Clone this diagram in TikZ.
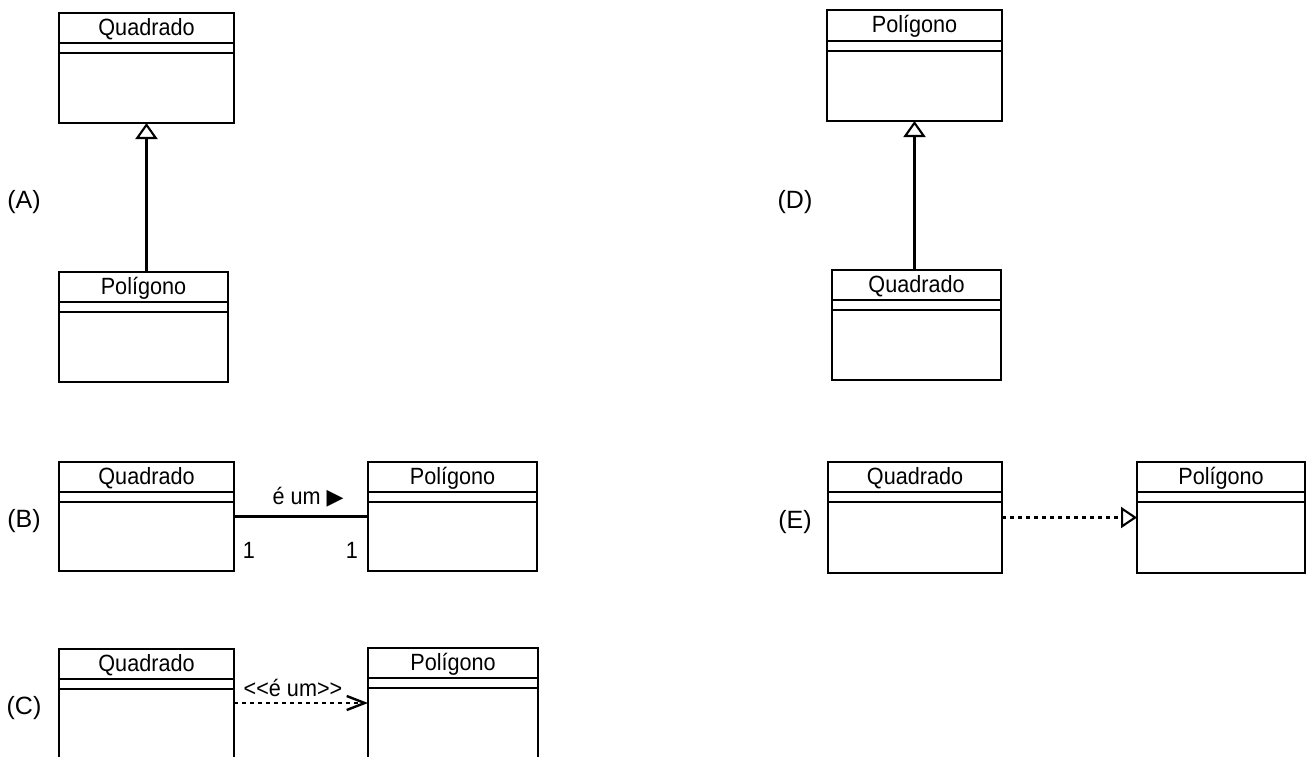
\documentclass[tikz,border=0pt]{standalone}
\usepackage{fontspec}
\usetikzlibrary{arrows.meta,calc}
\newfontfamily\umlfont{Liberation Sans}[FakeStretch=0.92]
\newfontfamily\lblfont{Liberation Sans}
\newfontfamily\symfont{DejaVu Sans}
\tikzset{
  classbox/.style={draw, line width=2.1pt, inner sep=0pt, outer sep=0pt},
  classname/.style={font=\umlfont\fontsize{23.5}{26}\selectfont, inner sep=0pt},
  reltext/.style={font=\umlfont\fontsize{23.5}{26}\selectfont, inner sep=0pt},
  letter/.style={font=\lblfont\fontsize{25}{28}\selectfont, inner sep=0pt},
  conn/.style={line width=2.1pt},
  dotline/.style={line width=2.1pt, dash pattern=on 4pt off 4pt},
  gentip/.style={-{Triangle[open,length=16pt,width=22pt,line width=2.1pt]}}
}
% #1 name, #2 x, #3 y, #4 width, #5 height, #6 title, #7 offset of first separator
\newcommand\umlclass[7]{%
  \node[classbox, minimum width=#4pt, minimum height=#5pt] (#1) at ({#2+#4/2},{#3+#5/2}) {};
  \draw[line width=2.1pt] ([yshift={-#7*1pt}]#1.north west) -- ([yshift={-#7*1pt}]#1.north east);
  \draw[line width=2.1pt] ([yshift={-(#7+10)*1pt}]#1.north west) -- ([yshift={-(#7+10)*1pt}]#1.north east);
  \node[classname] (#1-name) at ([yshift={-(#7/2+1)*1pt}]#1.north) {#6};
}
\begin{document}
\begin{tikzpicture}[x=1pt,y=-1pt]
\clip (0,0) rectangle (1306,756);
\fill[white] (0,0) rectangle (1306,756);

% (A)
\umlclass{A1}{59}{13}{175}{110}{Quadrado}{30}
\umlclass{A2}{59}{272}{169}{110}{Polígono}{30}
\draw[conn,gentip] (A2.north -| A1.south) -- (A1.south);
\node[letter] (la) at (24,202) {(A)};

% (D)
\umlclass{D1}{827}{10}{175}{111}{Polígono}{31}
\umlclass{D2}{832}{270}{169}{110}{Quadrado}{30}
\draw[conn,gentip] (D2.north -| D1.south) -- (D1.south);
\node[letter] (ld) at (795,202) {(D)};

% (B)
\umlclass{B1}{59}{462}{175}{109}{Quadrado}{30}
\umlclass{B2}{368}{462}{169}{109}{Polígono}{30}
\draw[conn] (B1.east) -- (B1.east -| B2.west);
\node[reltext] (bl) at (308,497) {é um {\symfont\fontsize{22}{24}\selectfont ▶}};
\node[reltext] (bm1) at (249,550) {1};
\node[reltext] (bm2) at (352,550) {1};
\node[letter] (lb) at (24,521) {(B)};

% (C)
\umlclass{C1}{59}{649}{175}{115}{Quadrado}{30}
\umlclass{C2}{368}{648}{170}{115}{Polígono}{30}
\draw[dotline,-{Straight Barb[length=18pt,width=14pt,line width=2.4pt]}] ($(C1.north east)+(0,54)$) -- ($(C2.north west)+(0,55)$);
\node[reltext] (cl) at (293,688) {<<é um>>};
\node[letter] (lc) at (24,708) {(C)};

% (E)
\umlclass{E1}{828}{462}{174}{111}{Quadrado}{30}
\umlclass{E2}{1137}{462}{168}{111}{Polígono}{30}
\draw[dotline,-{Triangle[open,length=16pt,width=21pt,line width=2.1pt]}] (E1.east) -- (E1.east -| E2.west);
\node[letter] (le) at (795,522) {(E)};
\end{tikzpicture}
\end{document}
